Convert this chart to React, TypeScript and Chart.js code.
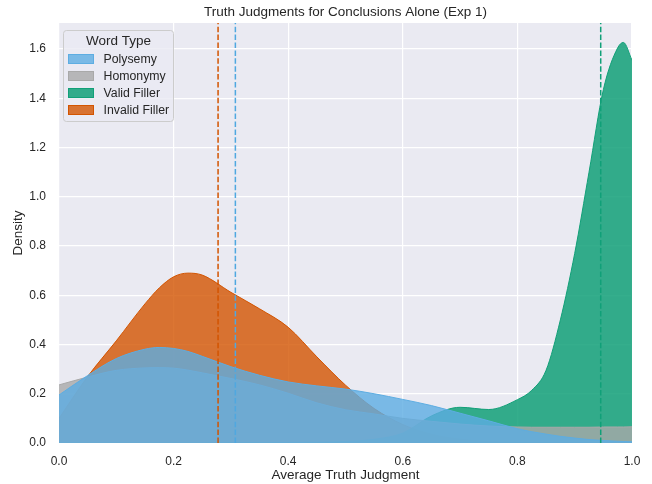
import { useEffect, useRef } from "react";
import { Chart, registerables } from "chart.js";

Chart.register(...registerables);

// ---- data ----
const judgmentX = [0, 0.05, 0.1, 0.15, 0.175, 0.2, 0.225, 0.25, 0.3, 0.35, 0.4, 0.45, 0.5, 0.55, 0.6, 0.65, 0.7, 0.75, 0.8, 0.825, 0.85, 0.875, 0.9, 0.925, 0.95, 0.975, 0.985, 1.0];
const polysemyDensity = [0.195, 0.274, 0.343, 0.381, 0.388, 0.384, 0.372, 0.352, 0.31, 0.275, 0.248, 0.232, 0.219, 0.2, 0.177, 0.152, 0.121, 0.09, 0.058, 0.046, 0.036, 0.027, 0.02, 0.014, 0.01, 0.007, 0.006, 0.005];
const homonymyDensity = [0.236, 0.268, 0.295, 0.305, 0.306, 0.304, 0.296, 0.285, 0.262, 0.236, 0.202, 0.163, 0.135, 0.118, 0.1, 0.088, 0.077, 0.069, 0.065, 0.064, 0.064, 0.064, 0.064, 0.064, 0.065, 0.065, 0.065, 0.066];
const validFillerDensity = [0, 0, 0, 0, 0, 0, 0, 0, 0.001, 0.001, 0.002, 0.003, 0.006, 0.015, 0.04, 0.11, 0.145, 0.136, 0.176, 0.214, 0.295, 0.5, 0.77, 1.1, 1.435, 1.605, 1.627, 1.555];
const invalidFillerDensity = [0.1, 0.27, 0.415, 0.565, 0.63, 0.675, 0.69, 0.682, 0.612, 0.545, 0.47, 0.35, 0.235, 0.14, 0.075, 0.035, 0.015, 0.005, 0.002, 0.001, 0.001, 0, 0, 0, 0, 0, 0, 0];

const seriesLabels = ["Polysemy", "Homonymy", "Valid Filler", "Invalid Filler"];
const seriesValues = [polysemyDensity, homonymyDensity, validFillerDensity, invalidFillerDensity];
const meanJudgment = [0.3078, null, 0.9454, 0.2776];

const xTicks = [0, 0.2, 0.4, 0.6, 0.8, 1.0];
const yTicks = [0, 0.2, 0.4, 0.6, 0.8, 1.0, 1.2, 1.4, 1.6];
const yMax = 1.706;

const chartTitle = "Truth Judgments for Conclusions Alone (Exp 1)";
const xTitle = "Average Truth Judgment";
const yTitle = "Density";
const legendTitle = "Word Type";

// ---- styles ----
const lineColors = ["#5DADE2", "#A9A9A9", "#12A078", "#D35400"];
const dashColors = ["#4FA8E0", "#A9A9A9", "#10A078", "#D35400"];
const fillColors = ["rgba(93,173,226,0.8)", "rgba(169,169,169,0.8)", "rgba(18,160,120,0.85)", "rgba(211,84,0,0.8)"];
const FONT = "'Liberation Sans', Arial, Helvetica, sans-serif";
const TEXT = "#262626";

const legendPlugin = {
  id: "kdeLegend",
  afterDraw(chart: any) {
    const { ctx, chartArea } = chart;
    const x0 = chartArea.left + 4.5;
    const y0 = chartArea.top + 7.5;
    const w = 110;
    const h = 91;
    const r = 3;
    ctx.save();
    ctx.beginPath();
    ctx.moveTo(x0 + r, y0);
    ctx.lineTo(x0 + w - r, y0);
    ctx.arcTo(x0 + w, y0, x0 + w, y0 + r, r);
    ctx.lineTo(x0 + w, y0 + h - r);
    ctx.arcTo(x0 + w, y0 + h, x0 + w - r, y0 + h, r);
    ctx.lineTo(x0 + r, y0 + h);
    ctx.arcTo(x0, y0 + h, x0, y0 + h - r, r);
    ctx.lineTo(x0, y0 + r);
    ctx.arcTo(x0, y0, x0 + r, y0, r);
    ctx.closePath();
    ctx.fillStyle = "rgba(234,234,242,0.8)";
    ctx.fill();
    ctx.strokeStyle = "#CCCCCC";
    ctx.lineWidth = 1;
    ctx.stroke();

    ctx.fillStyle = TEXT;
    ctx.textBaseline = "middle";
    ctx.textAlign = "center";
    ctx.font = `13.5px ${FONT}`;
    ctx.fillText(legendTitle, x0 + w / 2, y0 + 11);

    ctx.textAlign = "left";
    ctx.font = `12.3px ${FONT}`;
    seriesLabels.forEach((label, i) => {
      const cy = y0 + 28.5 + i * 17;
      ctx.fillStyle = fillColors[i];
      ctx.fillRect(x0 + 5, cy - 4.5, 25, 9);
      ctx.strokeStyle = lineColors[i];
      ctx.lineWidth = 1;
      ctx.strokeRect(x0 + 5, cy - 4.5, 25, 9);
      ctx.fillStyle = TEXT;
      ctx.fillText(label, x0 + 40, cy + 0.5);
    });
    ctx.restore();
  },
};

export default function App() {
  const canvasRef = useRef<HTMLCanvasElement | null>(null);

  useEffect(() => {
    document.body.style.margin = "0";
    const canvas = canvasRef.current;
    if (!canvas) return;

    const meanLines: any[] = [];
    meanJudgment.forEach((m, i) => {
      if (m === null) return;
      meanLines.push({
        label: seriesLabels[i] + " mean",
        data: [
          { x: m, y: 0 },
          { x: m, y: yMax },
        ],
        borderColor: dashColors[i],
        borderWidth: 1.5,
        borderDash: [5.5, 2.4],
        pointRadius: 0,
        fill: false,
        tension: 0,
      });
    });

    const kdeSets = seriesLabels.map((label, i) => ({
      label,
      data: judgmentX.map((x, j) => ({ x, y: seriesValues[i][j] })),
      borderColor: lineColors[i],
      backgroundColor: fillColors[i],
      borderWidth: 1,
      pointRadius: 0,
      fill: "origin",
      cubicInterpolationMode: "monotone",
    }));

    const chart = new Chart(canvas, {
      type: "line",
      data: { datasets: [...meanLines, ...kdeSets] as any },
      plugins: [
        {
          id: "plotBg",
          beforeDraw(c: any) {
            const { ctx, chartArea } = c;
            ctx.save();
            ctx.fillStyle = "#EAEAF2";
            ctx.fillRect(chartArea.left, chartArea.top, chartArea.right - chartArea.left, chartArea.bottom - chartArea.top);
            ctx.restore();
          },
        },
        legendPlugin,
      ],
      options: {
        animation: false,
        responsive: false,
        devicePixelRatio: 1,
        layout: { padding: { left: 0, right: 20, top: 0, bottom: 0 } },
        plugins: {
          legend: { display: false },
          tooltip: { enabled: false },
          title: {
            display: true,
            fullSize: false,
            text: chartTitle,
            color: TEXT,
            font: { family: FONT, size: 13.5, weight: "normal" },
            padding: { top: 4.6, bottom: 2.2 },
          },
        },
        scales: {
          x: {
            type: "linear",
            min: 0,
            max: 1,
            afterFit(s: any) {
              s.height = 41;
            },
            afterBuildTicks(s: any) {
              s.ticks = xTicks.map((v) => ({ value: v }));
            },
            ticks: {
              color: TEXT,
              font: { family: FONT, size: 12 },
              padding: 11.5,
              maxRotation: 0,
              callback: (v: any) => Number(v).toFixed(1),
            },
            grid: { color: "#FFFFFF", lineWidth: 1.2, drawTicks: false },
            border: { display: false },
            title: {
              display: true,
              text: xTitle,
              color: TEXT,
              font: { family: FONT, size: 13.5 },
              padding: { top: 0, bottom: 0.5 },
            },
          },
          y: {
            type: "linear",
            min: 0,
            max: yMax,
            afterFit(s: any) {
              s.width = 59;
            },
            afterBuildTicks(s: any) {
              s.ticks = yTicks.map((v) => ({ value: v }));
            },
            ticks: {
              color: TEXT,
              font: { family: FONT, size: 12 },
              padding: 13,
              callback: (v: any) => Number(v).toFixed(1),
            },
            grid: { color: "#FFFFFF", lineWidth: 1.2, drawTicks: false },
            border: { display: false },
            title: {
              display: true,
              text: yTitle,
              color: TEXT,
              font: { family: FONT, size: 13.5 },
              padding: { top: 10, bottom: 0 },
            },
          },
        },
      } as any,
    });

    return () => chart.destroy();
  }, []);

  return (
    <div style={{ width: 652, height: 484 }}>
      <canvas ref={canvasRef} width={652} height={484} style={{ width: 652, height: 484, display: "block" }} />
    </div>
  );
}
